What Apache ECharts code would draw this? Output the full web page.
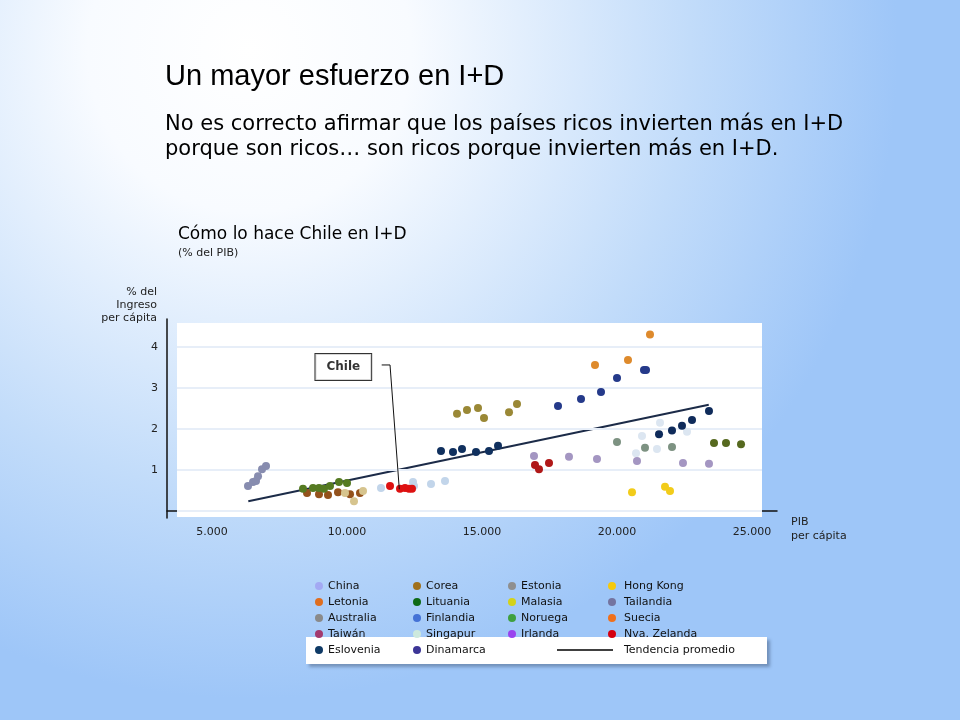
<!DOCTYPE html>
<html>
<head>
<meta charset="utf-8">
<script src="https://cdn.jsdelivr.net/npm/echarts@6/dist/echarts.min.js"></script>
<style>
html, body { margin: 0; padding: 0; }
#main { width: 960px; height: 720px; }
</style>
</head>
<body>
<div id="main"></div>
<script>
// datos: [PIB per cápita, % I+D]
var china = [[6333, 0.61], [6519, 0.71], [6630, 0.73], [6704, 0.85], [6852, 1.02], [7000, 1.10]];
var lituania = [[8370, 0.54], [8741, 0.56], [8963, 0.56], [9148, 0.54], [9370, 0.61], [9704, 0.71], [10000, 0.68]];
var letonia = [[8519, 0.44], [8963, 0.41], [9296, 0.39], [9667, 0.46], [10111, 0.41], [10481, 0.44]];
var malasia = [[9926, 0.44], [10259, 0.24], [10593, 0.49]];
var chile = [[11593, 0.61], [11963, 0.54], [12148, 0.56], [12296, 0.54], [12407, 0.54]];
var estonia = [[11259, 0.56], [12444, 0.71], [12481, 0.61], [13111, 0.66], [13630, 0.73]];
var eslovenia = [[13481, 1.46], [13926, 1.44], [14259, 1.51], [14778, 1.44], [15259, 1.46], [15593, 1.59]];
var corea = [[14074, 2.37], [14444, 2.46], [14852, 2.51], [15074, 2.27], [16000, 2.41], [16296, 2.61]];
var finlandia = [[17815, 2.56], [18667, 2.73], [19407, 2.90], [20000, 3.24], [21000, 3.44], [21074, 3.44]];
var suecia = [[19185, 3.56], [20407, 3.68], [21222, 4.30]];
var australia = [[20000, 1.68], [21037, 1.54], [22037, 1.56]];
var singapur = [[20704, 1.41], [20926, 1.83], [21593, 2.15], [21481, 1.51], [22593, 1.93]];
var irlanda = [[16926, 1.34], [18222, 1.32], [19259, 1.27], [20741, 1.22], [22444, 1.17], [23407, 1.15]];
var nvaZelanda = [[16963, 1.12], [17111, 1.02], [17481, 1.17]];
var hongKong = [[20556, 0.46], [21778, 0.59], [21963, 0.49]];
var dinamarca = [[21556, 1.87], [22037, 1.96], [22407, 2.08], [22778, 2.22], [23407, 2.44]];
var noruega = [[23593, 1.66], [24037, 1.66], [24593, 1.63]];
var tailandia = [];
var taiwan = [];
var tendencia = [[6344, 0.24], [23398, 2.59]];

var xTicks = [5000, 10000, 15000, 20000, 25000];
var yTicks = [1, 2, 3, 4];
var gridValues = [0, 1, 2, 3, 4];
var chileLabel = [[9863, 3.51]];
var chileLeader = [[11285, 3.56], [11593, 3.56], [11937, 0.53]];

var font = 'DejaVu Sans';

// nombre, datos, color del punto, color en la leyenda
var paises = [
	['China', china, '#878caf', '#a3a9f3'],
	['Letonia', letonia, '#94521c', '#df6e1f'],
	['Australia', australia, '#7d9282', '#8a8a8a'],
	['Taiwán', taiwan, '#a33a6e', '#a33a6e'],
	['Eslovenia', eslovenia, '#10305e', '#0f3a66'],
	['Corea', corea, '#9a8836', '#a0701c'],
	['Lituania', lituania, '#557a22', '#0e6a16'],
	['Finlandia', finlandia, '#253a8a', '#4472d6'],
	['Singapur', singapur, '#dce6f1', '#cde9dd'],
	['Dinamarca', dinamarca, '#0f2b5a', '#3c3596'],
	['Estonia', estonia, '#c2d5ea', '#8f8f8f'],
	['Malasia', malasia, '#d6c48e', '#d4d21a'],
	['Noruega', noruega, '#56691f', '#3fa03f'],
	['Irlanda', irlanda, '#a496c2', '#9944ee'],
	['Hong Kong', hongKong, '#f2cc1a', '#f5c90c'],
	['Tailandia', tailandia, '#7474a0', '#7474a0'],
	['Suecia', suecia, '#de8a2c', '#f0701c'],
	['Nva. Zelanda', nvaZelanda, '#b01818', '#d40010']
];

var colores = {};
var series = [];
for (var i = 0; i < paises.length; i++) {
	colores[paises[i][0]] = paises[i][3];
	series.push({
		name: paises[i][0],
		type: 'scatter',
		data: paises[i][1],
		symbolSize: 8,
		itemStyle: { color: paises[i][2], opacity: 1 },
		z: 5
	});
}

// panel blanco y líneas de fondo
series.push({
	name: 'panel',
	type: 'line',
	data: [],
	markArea: {
		silent: true,
		itemStyle: { color: '#ffffff' },
		data: [[{ coord: [3704, -0.146] }, { coord: [25370, 4.585] }]]
	},
	markLine: {
		silent: true,
		symbol: 'none',
		label: { show: false },
		lineStyle: { color: '#e7eef8', width: 2, type: 'solid' },
		data: gridValues.map(function (v) {
			return [{ coord: [3704, v] }, { coord: [25370, v] }];
		})
	},
	z: 1
});

series.push({
	name: 'Chile',
	type: 'scatter',
	data: chile,
	symbolSize: 8,
	itemStyle: { color: '#dd1111', opacity: 1 },
	z: 6
});

series.push({
	name: 'guia',
	type: 'line',
	data: chileLeader,
	symbol: 'none',
	lineStyle: { color: '#111', width: 1 },
	z: 7
});

series.push({
	name: 'etiqueta',
	type: 'scatter',
	data: chileLabel,
	symbolSize: 0,
	label: {
		show: true,
		position: 'inside',
		formatter: 'Chile',
		fontFamily: font,
		fontWeight: 'bold',
		fontSize: 12,
		color: '#000',
		backgroundColor: '#fff',
		borderColor: '#000',
		borderWidth: 1,
		padding: [7, 11]
	},
	z: 8
});

series.push({
	name: 'Tendencia promedio',
	type: 'line',
	data: tendencia,
	symbol: 'none',
	lineStyle: { color: '#1c2b48', width: 2 },
	itemStyle: { color: '#000' },
	z: 4
});

function legendCol(names, left, top, padLeft) {
	return {
		orient: 'vertical',
		left: left,
		top: top,
		itemWidth: 8,
		itemHeight: 8,
		itemGap: 2,
		icon: 'circle',
		selectedMode: false,
		textStyle: { fontFamily: font, fontSize: 11, color: '#111', lineHeight: 14, padding: [0, 0, 0, padLeft] },
		data: names.map(function (n) {
			return { name: n, itemStyle: { color: colores[n] } };
		})
	};
}

var myChart = echarts.init(document.getElementById('main'));
var option = {
	animation: false,
	backgroundColor: {
		type: 'radial', x: 0.26, y: 0.07, r: 0.9,
		colorStops: [
			{ offset: 0, color: '#ffffff' },
			{ offset: 0.25, color: '#f8fbff' },
			{ offset: 0.68, color: '#c2dcfa' },
			{ offset: 1, color: '#9ec6f8' }
		]
	},
	title: [
		{ text: 'Un mayor esfuerzo en I+D', left: 160, top: 57, textStyle: { fontFamily: 'Liberation Sans', fontSize: 29, fontWeight: 'normal', color: '#000' } },
		{ text: 'No es correcto afirmar que los países ricos invierten más en I+D\nporque son ricos… son ricos porque invierten más en I+D.', left: 160, top: 107,
			textStyle: { fontFamily: font, fontSize: 21, fontWeight: 'normal', color: '#000', lineHeight: 25 } },
		{ text: 'Cómo lo hace Chile en I+D', subtext: '(% del PIB)', left: 173, top: 221, itemGap: 5,
			textStyle: { fontFamily: font, fontSize: 17, fontWeight: 'normal', color: '#000' },
			subtextStyle: { fontFamily: font, fontSize: 11, color: '#222' } }
	],
	grid: { left: 167, right: 183, top: 319, bottom: 202 },
	xAxis: {
		type: 'value',
		min: 3333,
		max: 25926,
		axisLine: { show: true, lineStyle: { color: '#111', width: 1.5 } },
		axisTick: { show: false },
		splitLine: { show: false },
		axisLabel: {
			customValues: xTicks,
			margin: 9,
			fontFamily: font,
			fontSize: 11,
			color: '#222',
			formatter: function (v) { return (v / 1000).toFixed(0) + '.000'; }
		}
	},
	yAxis: {
		type: 'value',
		min: -0.17,
		max: 4.68,
		axisLine: { show: true, lineStyle: { color: '#111', width: 1.5 } },
		axisTick: { show: false },
		splitLine: { show: false },
		axisLabel: {
			customValues: yTicks,
			margin: 9,
			fontFamily: font,
			fontSize: 11,
			color: '#222'
		}
	},
	legend: [
		legendCol(['China', 'Letonia', 'Australia', 'Taiwán', 'Eslovenia'], 310, 574, 0),
		legendCol(['Corea', 'Lituania', 'Finlandia', 'Singapur', 'Dinamarca'], 408, 574, 0),
		legendCol(['Estonia', 'Malasia', 'Noruega', 'Irlanda'], 503, 574, 0),
		legendCol(['Hong Kong', 'Tailandia', 'Suecia', 'Nva. Zelanda'], 603, 574, 3),
		{
			left: 552, top: 638, itemWidth: 56, itemHeight: 1.5, selectedMode: false, icon: 'rect',
			textStyle: { fontFamily: font, fontSize: 11, color: '#111', lineHeight: 14, padding: [0, 0, 0, 6] },
			data: [{ name: 'Tendencia promedio', itemStyle: { color: '#000' } }]
		}
	],
	graphic: [
		{
			type: 'rect', left: 306, top: 637, z: 0,
			shape: { width: 461, height: 27 },
			style: { fill: '#ffffff', shadowBlur: 3, shadowOffsetX: 3, shadowOffsetY: 3, shadowColor: 'rgba(60,80,110,0.45)' }
		},
		{
			type: 'text', x: 157, y: 286, z: 3,
			style: { text: '% del\nIngreso\nper cápita', align: 'right', verticalAlign: 'top', font: '11px "DejaVu Sans"', fill: '#222', lineHeight: 13 }
		},
		{
			type: 'text', x: 791, y: 515, z: 3,
			style: { text: 'PIB\nper cápita', align: 'left', verticalAlign: 'top', font: '11px "DejaVu Sans"', fill: '#222', lineHeight: 14 }
		}
	],
	series: series
};
myChart.setOption(option);
</script>
</body>
</html>
